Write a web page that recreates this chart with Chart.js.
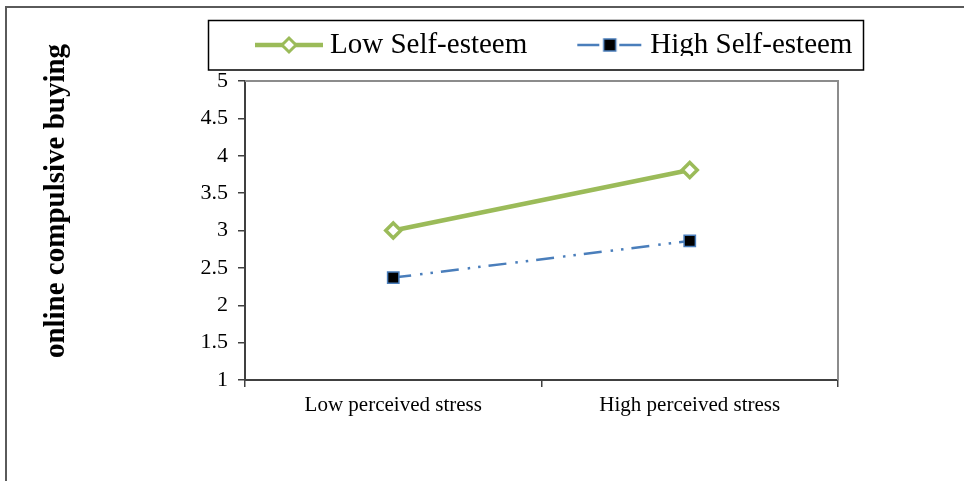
<!DOCTYPE html>
<html>
<head>
<meta charset="utf-8">
<script src="https://cdn.jsdelivr.net/npm/chart.js@4/dist/chart.umd.min.js"></script>
<style>
  html, body { margin: 0; padding: 0; background: #ffffff; }
  #wrap { width: 964px; height: 481px; }
</style>
</head>
<body>
<div id="wrap"><canvas id="c" width="964" height="481"></canvas></div>
<script>
// ---- data ----
const categories = ['Low perceived stress', 'High perceived stress'];
const seriesNames = ['Low Self-esteem', 'High Self-esteem'];
const lowSelfEsteem = [3.0, 3.81];
const highSelfEsteem = [2.37, 2.86];
const yMin = 1;
const yMax = 5;
const yStep = 0.5;
const yTitle = 'online compulsive buying';

// ---- styles ----
const GREEN = '#9BBB59';
const BLUE = '#4A7EBB';
const SERIF = '"Liberation Serif", "Times New Roman", serif';

function legendImage(kind) {
  const c = document.createElement('canvas');
  c.width = 68; c.height = 24;
  const g = c.getContext('2d');
  const cy = 12;
  if (kind === 0) {
    g.strokeStyle = GREEN; g.lineWidth = 4.5;
    g.beginPath(); g.moveTo(0, cy); g.lineTo(68, cy); g.stroke();
    g.beginPath();
    g.moveTo(34 - 7, cy); g.lineTo(34, cy - 7); g.lineTo(34 + 7, cy); g.lineTo(34, cy + 7); g.closePath();
    g.fillStyle = '#ffffff'; g.fill();
    g.lineWidth = 3; g.stroke();
  } else {
    g.strokeStyle = BLUE; g.lineWidth = 2.5;
    g.beginPath(); g.moveTo(2, cy); g.lineTo(24, cy); g.moveTo(44, cy); g.lineTo(66, cy); g.stroke();
    g.fillStyle = '#000000';
    g.fillRect(28.5, cy - 6, 12, 12);
    g.lineWidth = 1.5;
    g.strokeRect(28.5, cy - 6, 12, 12);
  }
  return c;
}
const legendImgs = [legendImage(0), legendImage(1)];

const LEGEND_PAD = 55.5;

const framePlugin = {
  id: 'framePlugin',
  beforeLayout(chart) {
    const l = chart.legend;
    if (l && !l._patchedFit) {
      const f = l.fit;
      l.fit = function () { f.call(this); this.height = 81; };
      l._patchedFit = true;
    }
  },
  afterLayout(chart) {
    const l = chart.legend;
    if (!l) return;
    l.left = 262.5 - LEGEND_PAD;
    l.right = 964;
    l.width = l.right - l.left;
    l.top = 45 - LEGEND_PAD - 14.5;
    l.bottom = l.top + 81;
  },
  beforeDraw(chart) {
    const ctx = chart.ctx;
    ctx.save();
    ctx.fillStyle = '#ffffff';
    ctx.fillRect(0, 0, chart.width, chart.height);
    // outer frame (top and left)
    ctx.strokeStyle = '#5a5a5a';
    ctx.lineWidth = 2;
    ctx.beginPath();
    ctx.moveTo(6, 481); ctx.lineTo(6, 7); ctx.lineTo(964, 7);
    ctx.stroke();
    // legend frame
    ctx.strokeStyle = '#000000';
    ctx.lineWidth = 1.5;
    ctx.strokeRect(208.5, 20.5, 655, 49.5);
    // y axis title
    ctx.translate(57, 201);
    ctx.rotate(-Math.PI / 2);
    ctx.fillStyle = '#000000';
    ctx.font = 'bold 29px ' + SERIF;
    ctx.textAlign = 'center';
    ctx.textBaseline = 'middle';
    ctx.fillText(yTitle, 0, 0);
    ctx.restore();
  },
  beforeDatasetsDraw(chart) {
    const a = chart.chartArea;
    const ctx = chart.ctx;
    ctx.save();
    ctx.strokeStyle = '#8c8c8c';
    ctx.lineWidth = 2;
    ctx.beginPath();
    ctx.moveTo(a.left, a.top); ctx.lineTo(a.right, a.top); ctx.lineTo(a.right, a.bottom);
    ctx.stroke();
    ctx.restore();
  }
};

new Chart(document.getElementById('c'), {
  type: 'line',
  data: {
    labels: categories,
    datasets: [
      {
        label: seriesNames[0],
        data: lowSelfEsteem,
        borderColor: GREEN,
        borderWidth: 4.5,
        pointStyle: 'rectRot',
        pointRadius: 7.5,
        pointBorderWidth: 3.5,
        pointBackgroundColor: '#ffffff',
        pointBorderColor: GREEN,
        fill: false,
        tension: 0
      },
      {
        label: seriesNames[1],
        data: highSelfEsteem,
        borderColor: BLUE,
        borderWidth: 2.5,
        borderDash: [18, 9, 2.5, 8, 2.5, 8],
        pointStyle: 'rect',
        pointRadius: 8,
        pointBorderWidth: 1.5,
        pointBackgroundColor: '#000000',
        pointBorderColor: BLUE,
        fill: false,
        tension: 0
      }
    ]
  },
  options: {
    responsive: false,
    animation: false,
    layout: { padding: { left: 0, right: 126, top: 0, bottom: 0 } },
    plugins: {
      tooltip: { enabled: false },
      title: { display: false },
      legend: {
        display: true,
        position: 'top',
        align: 'start',
        labels: {
          usePointStyle: true,
          pointStyleWidth: 53,
          padding: LEGEND_PAD,
          color: '#000000',
          font: { family: SERIF, size: 29, lineHeight: 1 },
          generateLabels(chart) {
            const items = Chart.defaults.plugins.legend.labels.generateLabels(chart);
            items.forEach((it, i) => { it.pointStyle = legendImgs[i]; it.lineWidth = 0; });
            return items;
          }
        }
      }
    },
    scales: {
      x: {
        type: 'category',
        offset: true,
        afterFit(scale) { scale.height = 101; },
        grid: {
          offset: true,
          drawOnChartArea: false,
          drawTicks: true,
          tickLength: 7,
          color: '#404040',
          lineWidth: 1.5
        },
        border: { display: true, color: '#404040', width: 2 },
        ticks: {
          color: '#000000',
          padding: 6,
          maxRotation: 0,
          font: { family: SERIF, size: 21 }
        }
      },
      y: {
        min: yMin,
        max: yMax,
        afterFit(scale) { scale.width = 245; },
        grid: {
          drawOnChartArea: false,
          drawTicks: true,
          tickLength: 7,
          color: '#404040',
          lineWidth: 1.5
        },
        border: { display: true, color: '#404040', width: 2 },
        ticks: {
          stepSize: yStep,
          color: '#000000',
          padding: 10,
          font: { family: SERIF, size: 22 },
          callback(value) { return String(Math.round(value * 10) / 10); }
        }
      }
    }
  },
  plugins: [framePlugin]
});
</script>
</body>
</html>
